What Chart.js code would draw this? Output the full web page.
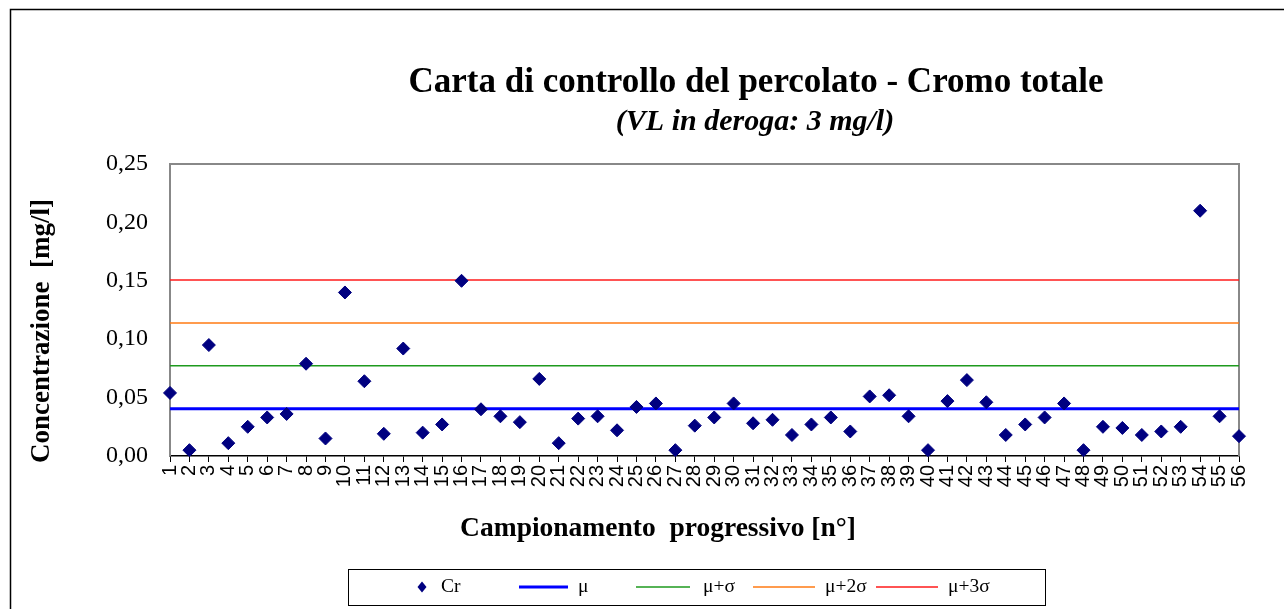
<!DOCTYPE html>
<html>
<head>
<meta charset="utf-8">
<title>Carta di controllo del percolato - Cromo totale</title>
<script src="https://cdn.jsdelivr.net/npm/chart.js@4.4.1/dist/chart.umd.min.js"></script>
<style>
  html, body { margin: 0; padding: 0; background: #fff; }
</style>
</head>
<body>
<canvas id="chart" width="1284" height="609"></canvas>
<script>
// campionamenti (asse x)
const campioni = ['1','2','3','4','5','6','7','8','9','10','11','12','13','14','15','16','17','18','19','20',
  '21','22','23','24','25','26','27','28','29','30','31','32','33','34','35','36','37','38','39','40',
  '41','42','43','44','45','46','47','48','49','50','51','52','53','54','55','56'];

// concentrazione di cromo totale [mg/l]
const cromo = [0.054, 0.005, 0.095, 0.011, 0.025, 0.033, 0.036, 0.079, 0.015, 0.140,
  0.064, 0.019, 0.092, 0.020, 0.027, 0.150, 0.040, 0.034, 0.029, 0.066,
  0.011, 0.032, 0.034, 0.022, 0.042, 0.045, 0.005, 0.026, 0.033, 0.045,
  0.028, 0.031, 0.018, 0.027, 0.033, 0.021, 0.051, 0.052, 0.034, 0.005,
  0.047, 0.065, 0.046, 0.018, 0.027, 0.033, 0.045, 0.005, 0.025, 0.024,
  0.018, 0.021, 0.025, 0.210, 0.034, 0.017];

// limiti di controllo
const limiti = [0.0405, 0.0772, 0.1139, 0.1506];
const limitiNomi = ['μ', 'μ+σ', 'μ+2σ', 'μ+3σ'];
const limitiColori = ['#0000FF', '#1E9A1E', '#FF7A12', '#FF1A1A'];
const limitiSpessori = [3, 1.5, 1.5, 1.5];

const yMin = 0;
const yMax = 0.25;
const yStep = 0.05;

const serif = '"Liberation Serif", "Times New Roman", serif';

function lineaLimite(i) {
    return {
        label: limitiNomi[i],
        data: [{ x: campioni[0], y: limiti[i] }, { x: campioni[campioni.length - 1], y: limiti[i] }],
        borderColor: limitiColori[i],
        backgroundColor: limitiColori[i],
        borderWidth: limitiSpessori[i],
        pointRadius: 0,
        pointHoverRadius: 0,
        fill: false
    };
}

// titles, frame and legend box
const decor = {
    id: 'decor',
    beforeDraw(chart) {
        const c = chart.ctx;
        c.save();
        c.fillStyle = '#fff';
        c.fillRect(0, 0, chart.width, chart.height);
        c.strokeStyle = '#000';
        c.lineWidth = 1.5;
        c.strokeRect(10.5, 9.5, chart.width + 40, chart.height + 40);
        c.restore();
    },
    beforeDatasetsDraw(chart) {
        const c = chart.ctx;
        const a = chart.chartArea;
        c.save();
        c.strokeStyle = '#888';
        c.lineWidth = 2;
        c.beginPath();
        c.moveTo(a.left, a.bottom);
        c.lineTo(a.left, a.top);
        c.lineTo(a.right, a.top);
        c.lineTo(a.right, a.bottom);
        c.stroke();
        c.restore();
    },
    afterDraw(chart) {
        const c = chart.ctx;
        c.save();
        c.fillStyle = '#000';
        c.textAlign = 'center';
        c.textBaseline = 'alphabetic';
        c.font = 'bold 35px ' + serif;
        c.fillText('Carta di controllo del percolato - Cromo totale', 756, 92);
        c.font = 'italic bold 30px ' + serif;
        c.fillText('(VL in deroga: 3 mg/l)', 755, 130);

        c.textBaseline = 'middle';
        c.font = 'bold 27.5px ' + serif;
        c.fillText('Campionamento  progressivo [n°]', 658, 529);
        c.font = 'bold 27px ' + serif;
        c.save();
        c.translate(42, 331);
        c.rotate(-Math.PI / 2);
        c.fillText('Concentrazione  [mg/l]', 0, 0);
        c.restore();

        // legend
        c.strokeStyle = '#000';
        c.lineWidth = 1;
        c.strokeRect(348.5, 569.5, 697, 36);
        const ly = 587;
        const ds = chart.data.datasets;
        c.font = '19.5px ' + serif;
        c.textAlign = 'left';
        // Cr marker
        c.fillStyle = ds[0].backgroundColor;
        c.beginPath();
        c.moveTo(422, ly - 5.5);
        c.lineTo(426.5, ly);
        c.lineTo(422, ly + 5.5);
        c.lineTo(417.5, ly);
        c.closePath();
        c.fill();
        c.fillStyle = '#000';
        c.fillText(ds[0].label, 441, ly);
        const pos = [[519, 568, 578], [636, 690, 703], [753, 815, 825], [876, 938, 948]];
        for (let i = 1; i < ds.length; i++) {
            const p = pos[i - 1];
            c.strokeStyle = ds[i].borderColor;
            c.lineWidth = ds[i].borderWidth;
            c.beginPath();
            c.moveTo(p[0], ly);
            c.lineTo(p[1], ly);
            c.stroke();
            c.fillStyle = '#000';
            c.fillText(ds[i].label, p[2], ly);
        }
        c.restore();
    }
};

new Chart(document.getElementById('chart'), {
    type: 'line',
    data: {
        labels: campioni,
        datasets: [
            {
                label: 'Cr',
                data: cromo,
                showLine: false,
                pointStyle: 'rectRot',
                pointRadius: 6.5,
                pointHoverRadius: 6.5,
                pointBorderWidth: 1,
                backgroundColor: '#000080',
                borderColor: '#000080',
                clip: false
            },
            lineaLimite(0),
            lineaLimite(1),
            lineaLimite(2),
            lineaLimite(3)
        ]
    },
    options: {
        responsive: false,
        animation: false,
        devicePixelRatio: 1,
        layout: { padding: { left: 0, top: 164, right: 45, bottom: 0 } },
        plugins: {
            legend: { display: false },
            title: { display: false },
            tooltip: { enabled: false }
        },
        scales: {
            x: {
                type: 'category',
                offset: false,
                grid: { display: true, drawOnChartArea: false, drawTicks: true, tickLength: 6, color: '#000', lineWidth: 1 },
                border: { display: true, color: '#000', width: 1.5 },
                ticks: {
                    autoSkip: false,
                    minRotation: 90,
                    maxRotation: 90,
                    padding: 3,
                    color: '#000',
                    font: { family: '"Liberation Sans", Arial, sans-serif', size: 20 }
                },
                afterFit(scale) { scale.height = 153; }
            },
            y: {
                min: yMin,
                max: yMax,
                grid: { display: false, drawTicks: false },
                border: { display: false },
                ticks: {
                    stepSize: yStep,
                    padding: 22,
                    color: '#000',
                    font: { family: serif, size: 24 },
                    callback: v => v.toFixed(2).replace('.', ',')
                },
                afterFit(scale) { scale.width = 170; }
            }
        }
    },
    plugins: [decor]
});
</script>
</body>
</html>
